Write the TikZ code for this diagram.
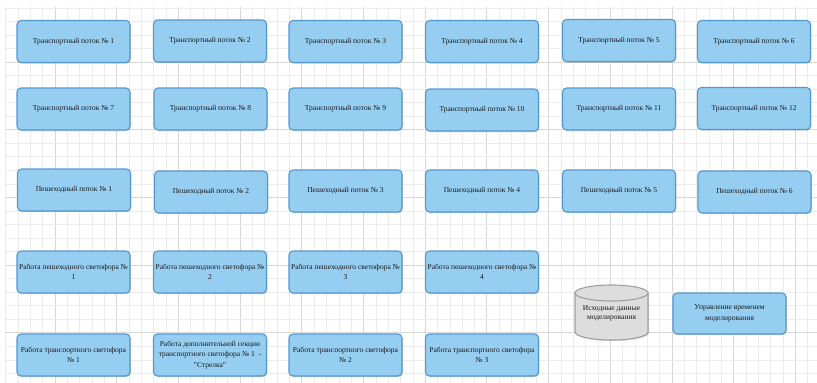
\documentclass[tikz,border=0pt]{standalone}
\usepackage{fontspec}
\setmainfont{Liberation Serif}
\usetikzlibrary{shadows}
\definecolor{boxfill}{RGB}{150,206,241}
\definecolor{boxdraw}{RGB}{84,152,208}
\definecolor{cylfill}{RGB}{221,221,221}
\definecolor{cyldraw}{RGB}{160,160,160}
\definecolor{gridminor}{RGB}{236,236,236}
\definecolor{gridmajor}{RGB}{216,216,216}
\definecolor{txt}{RGB}{25,25,25}
\tikzset{
  blockbox/.style={draw=boxdraw, fill=boxfill, line width=1.1pt, rounded corners=4pt,
    minimum width=113pt, minimum height=42pt, inner sep=1pt, align=center,
    text=txt, font=\fontsize{7.5}{10.5}\selectfont,
    drop shadow={shadow xshift=0.8pt, shadow yshift=-1pt, opacity=0.18, fill=black}},
  cyltext/.style={inner sep=0pt, align=center, text=txt, font=\fontsize{7.5}{9.5}\selectfont}
}
\begin{document}
\begin{tikzpicture}[x=1pt,y=-1pt]
\useasboundingbox (0,0) rectangle (817,383);
\fill[white] (0,0) rectangle (817,383);
% grid
\foreach \k in {-4,...,61}{
  \pgfmathsetmacro{\xx}{55+12.34*\k}
  \pgfmathtruncatemacro{\mm}{mod(\k+100,5)}
  \ifnum\mm=0
    \draw[gridmajor, line width=1pt] (\xx,7) -- (\xx,383);
  \else
    \draw[gridminor, line width=0.6pt] (\xx,7) -- (\xx,383);
  \fi
}
\foreach \k in {-4,...,23}{
  \pgfmathsetmacro{\yy}{62+13.54*\k}
  \pgfmathtruncatemacro{\mm}{mod(\k+100,5)}
  \ifnum\mm=0
    \draw[gridmajor, line width=1pt] (5,\yy) -- (817,\yy);
  \else
    \draw[gridminor, line width=0.6pt] (5,\yy) -- (817,\yy);
  \fi
}
% row 1
\node[blockbox] (b1) at (73.5,41.5) {Транспортный поток № 1};
\node[blockbox] (b2) at (210,41) {Транспортный поток № 2};
\node[blockbox] (b3) at (345.5,41.5) {Транспортный поток № 3};
\node[blockbox] (b4) at (482,41.5) {Транспортный поток № 4};
\node[blockbox] (b5) at (619,40.5) {Транспортный поток № 5};
\node[blockbox] (b6) at (754,41.5) {Транспортный поток № 6};
% row 2
\node[blockbox] (b7) at (73.5,109) {Транспортный поток № 7};
\node[blockbox] (b8) at (210.5,109) {Транспортный поток № 8};
\node[blockbox] (b9) at (345.5,109) {Транспортный поток № 9};
\node[blockbox] (b10) at (482,110) {Транспортный поток № 10};
\node[blockbox] (b11) at (619,109) {Транспортный поток № 11};
\node[blockbox] (b12) at (754,108.5) {Транспортный поток № 12};
% row 3
\node[blockbox] (p1) at (74,190) {Пешеходный поток № 1};
\node[blockbox] (p2) at (211,192) {Пешеходный поток № 2};
\node[blockbox] (p3) at (345.5,191) {Пешеходный поток № 3};
\node[blockbox] (p4) at (482,191) {Пешеходный поток № 4};
\node[blockbox] (p5) at (619,191) {Пешеходный поток № 5};
\node[blockbox] (p6) at (754.5,192) {Пешеходный поток № 6};
% row 4
\node[blockbox] (s1) at (73.5,272) {Работа пешеходного светофора №\\1};
\node[blockbox] (s2) at (210,272) {Работа пешеходного светофора №\\2};
\node[blockbox] (s3) at (345.5,272) {Работа пешеходного светофора №\\3};
\node[blockbox] (s4) at (482,272) {Работа пешеходного светофора №\\4};
% row 5
\node[blockbox] (t1) at (73.5,355) {Работа транспортного светофора\\№ 1};
\node[blockbox] (t2) at (210,355) {Работа дополнительной секции\\транспортного светофора № 1~~-\\"Стрелка"};
\node[blockbox] (t3) at (345.5,355) {Работа транспортного светофора\\№ 2};
\node[blockbox] (t4) at (482,355) {Работа транспортного светофора\\№ 3};
% control box
\node[blockbox, minimum height=41pt] (ctrl) at (729.5,313.5) {Управление временем\\моделирования};
% data cylinder
\fill[black, opacity=0.15] (576,294) -- (576,333) arc[start angle=180, end angle=360, x radius=36.5pt, y radius=8pt] -- (649,294) -- cycle;
\draw[cyldraw, fill=cylfill, line width=1.1pt] (575,293) -- (575,332) arc[start angle=180, end angle=360, x radius=36.5pt, y radius=8pt] -- (648,293) -- cycle;
\draw[cyldraw, fill=cylfill, line width=1.1pt] (611.5,293) ellipse [x radius=36.5pt, y radius=8pt];
\node[cyltext] (data) at (611.5,313.5) {Исходные данные\\моделирования};
\end{tikzpicture}
\end{document}
